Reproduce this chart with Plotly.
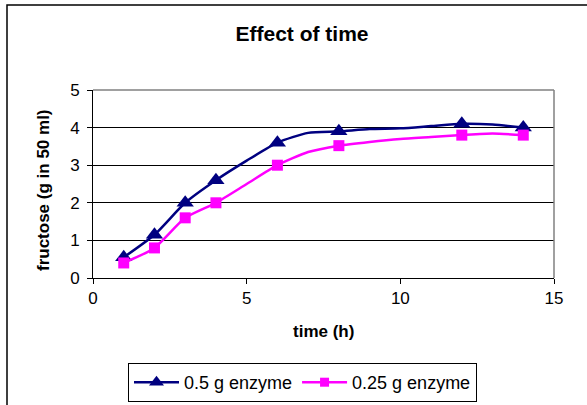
import plotly.graph_objects as go

# hourly curve values (smoothed line) and the hours with measured markers
hours = [1, 2, 3, 4, 5, 6, 7, 8, 9, 10, 11, 12, 13, 14]
enzyme_05 = [0.55, 1.15, 2.0, 2.6, 3.12, 3.6, 3.86, 3.9, 3.96, 3.98, 4.04, 4.1, 4.08, 4.0]
enzyme_025 = [0.4, 0.8, 1.6, 2.0, 2.5, 3.0, 3.35, 3.52, 3.62, 3.7, 3.75, 3.8, 3.84, 3.8]
measured_hours = [1, 2, 3, 4, 6, 8, 12, 14]
series_names = ["0.5 g enzyme", "0.25 g enzyme"]
x_ticks = [0, 5, 10, 15]
y_ticks = [0, 1, 2, 3, 4, 5]

BLUE = "#000080"
PINK = "#FF00FF"
FONT = "Arial, Liberation Sans, sans-serif"

fig = go.Figure()

def add_series(vals, name, color, symbol, msize):
    idx = [hours.index(h) for h in measured_hours]
    fig.add_trace(go.Scatter(x=hours, y=vals, mode="lines",
                             line=dict(color=color, width=2.5, shape="spline", smoothing=0.6),
                             showlegend=False, hoverinfo="skip"))
    fig.add_trace(go.Scatter(x=[hours[i] for i in idx], y=[vals[i] for i in idx], mode="markers",
                             marker=dict(color=color, symbol=symbol, size=msize),
                             showlegend=False, name=name))
    fig.add_trace(go.Scatter(x=[None], y=[None], mode="lines+markers", name=name,
                             line=dict(color=color, width=2.5),
                             marker=dict(color=color, symbol=symbol, size=msize - 2)))

add_series(enzyme_05, series_names[0], BLUE, "triangle-up", 15)
add_series(enzyme_025, series_names[1], PINK, "square", 11)

fig.update_layout(
    width=587, height=405,
    margin=dict(l=93, r=33, t=90, b=127, autoexpand=False),
    paper_bgcolor="white", plot_bgcolor="white",
    font=dict(family=FONT, color="black", size=17),
    title=dict(text="<b>Effect of time</b>", x=302 / 587, xanchor="center",
               y=1 - 34 / 405, yanchor="middle", yref="container",
               font=dict(size=21, family=FONT)),
    xaxis=dict(range=[0, 15], tickvals=x_ticks, showgrid=False, zeroline=False,
               showline=True, linecolor="black", linewidth=1, mirror=False,
               ticks="outside", ticklen=5, tickcolor="black", tickfont=dict(size=17),
               fixedrange=True),
    yaxis=dict(range=[0, 5], tickvals=y_ticks, showgrid=True, gridcolor="black", gridwidth=1,
               zeroline=False, showline=True, linecolor="black", linewidth=1,
               ticks="outside", ticklen=5, tickcolor="black", tickfont=dict(size=17),
               ticklabelstandoff=4, fixedrange=True),
    legend=dict(orientation="h", x=(128 - 93) / 461, y=(278 - 402) / 188,
                xanchor="left", yanchor="bottom", bordercolor="black", borderwidth=1,
                font=dict(size=18, family=FONT), itemwidth=45, tracegroupgap=0,
                bgcolor="white"),
    annotations=[
        dict(text="<b>time (h)</b>", xref="paper", yref="paper",
             x=(323 - 93) / 461, y=(278 - 331) / 188, xanchor="center", yanchor="middle",
             showarrow=False, font=dict(size=17)),
        dict(text="<b>fructose (g in 50 ml)</b>", xref="paper", yref="paper",
             x=(43 - 93) / 461, y=(278 - 190) / 188, xanchor="center", yanchor="middle",
             textangle=-90, showarrow=False, font=dict(size=17)),
    ],
    shapes=[
        # grey border top/right of plot area
        dict(type="line", xref="paper", yref="paper", x0=0, x1=1, y0=1, y1=1,
             line=dict(color="#808080", width=1.5)),
        dict(type="line", xref="paper", yref="paper", x0=1, x1=1, y0=0, y1=1,
             line=dict(color="#808080", width=1.5)),
        # chart area border
        dict(type="rect", xref="paper", yref="paper",
             x0=(7 - 93) / 461, x1=(620 - 93) / 461,
             y0=(278 - 430) / 188, y1=(278 - 5) / 188,
             line=dict(color="black", width=1.5), fillcolor="rgba(0,0,0,0)"),
    ],
)

fig.write_html("out.html")
